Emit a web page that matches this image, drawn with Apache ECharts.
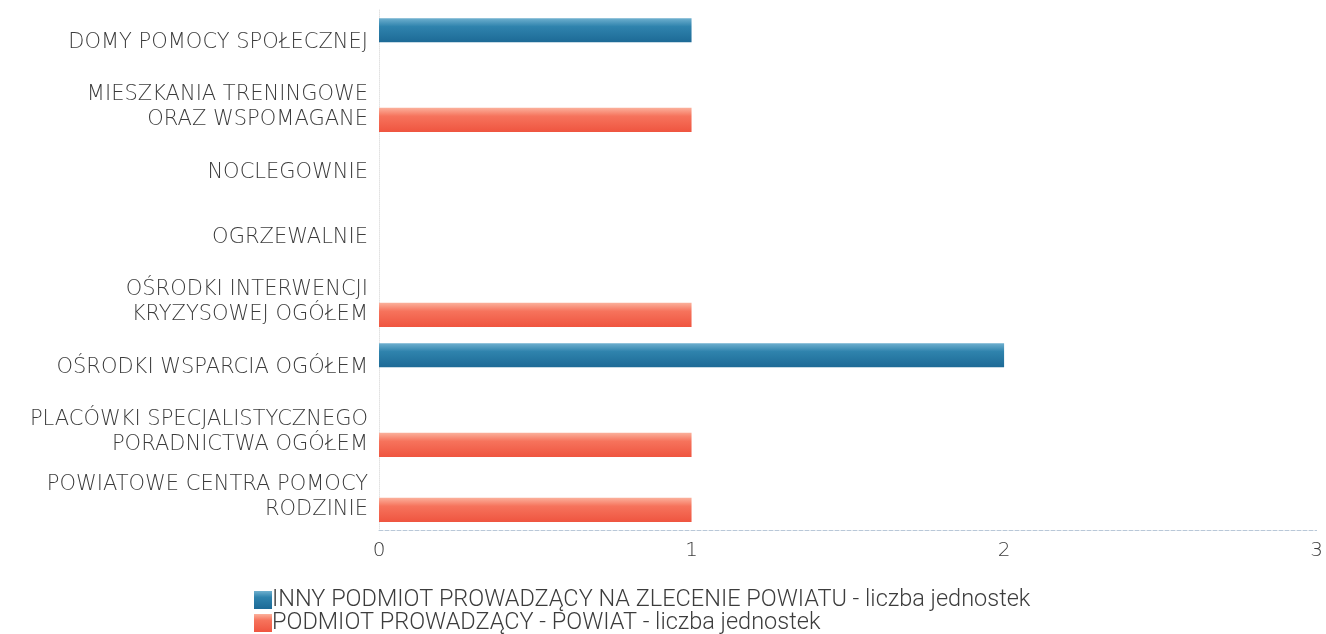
<!DOCTYPE html>
<html>
<head>
<meta charset="utf-8">
<script src="https://cdn.jsdelivr.net/npm/echarts@6/dist/echarts.min.js"></script>
<style>
html, body { margin: 0; padding: 0; background: #fff; }
#main { width: 1326px; height: 634px; }
</style>
</head>
<body>
<div id="main"></div>
<script>
// kategorie (od góry)
var categories = [
    'DOMY POMOCY SPOŁECZNEJ',
    'MIESZKANIA TRENINGOWE\nORAZ WSPOMAGANE',
    'NOCLEGOWNIE',
    'OGRZEWALNIE',
    'OŚRODKI INTERWENCJI\nKRYZYSOWEJ OGÓŁEM',
    'OŚRODKI WSPARCIA OGÓŁEM',
    'PLACÓWKI SPECJALISTYCZNEGO\nPORADNICTWA OGÓŁEM',
    'POWIATOWE CENTRA POMOCY\nRODZINIE'
];
var innyName = 'INNY PODMIOT PROWADZĄCY NA ZLECENIE POWIATU - liczba jednostek';
var powiatName = 'PODMIOT PROWADZĄCY - POWIAT - liczba jednostek';
var innyValues = [1, 0, 0, 0, 0, 2, 0, 0];
var powiatValues = [0, 1, 0, 0, 1, 0, 1, 1];
var xTicks = [0, 1, 2, 3];

var textColor = '#3c3c3c';
var labelFont = 'DejaVu Sans, sans-serif';

// gradient na słupkach (jaśniejszy pasek u góry)
function barGradient(top, mid, bottom) {
    return new echarts.graphic.LinearGradient(0, 0, 0, 1, [
        {offset: 0, color: top},
        {offset: 0.35, color: mid},
        {offset: 1, color: bottom}
    ]);
}

// jedna legenda na serię, żeby ułożyć je pod sobą
function legendRow(name, top) {
    return {
        left: 249,
        top: top,
        icon: 'rect',
        itemWidth: 18,
        itemHeight: 18,
        data: [name],
        textStyle: {
            color: textColor,
            fontFamily: 'Roboto, sans-serif',
            fontWeight: 300,
            fontSize: 23.5,
            lineHeight: 18,
            padding: [0, 0, 0, -5]
        }
    };
}

var myChart = echarts.init(document.getElementById('main'));
var option = {
    backgroundColor: '#fff',
    animation: false,
    grid: {
        left: 379,
        right: 8,
        top: 10,
        bottom: 104,
        containLabel: false
    },
    legend: [
        legendRow(innyName, 583),
        legendRow(powiatName, 606)
    ],
    xAxis: {
        type: 'value',
        min: xTicks[0],
        max: xTicks[xTicks.length - 1],
        interval: 1,
        splitLine: {show: false},
        axisLine: {
            show: true,
            lineStyle: {color: '#b9c8d8', type: 'dashed', width: 1}
        },
        axisTick: {show: false},
        axisLabel: {
            margin: 11,
            color: textColor,
            fontFamily: labelFont,
            fontWeight: 200,
            fontSize: 20
        }
    },
    yAxis: {
        type: 'category',
        inverse: true,
        data: categories,
        axisLine: {
            show: true,
            lineStyle: {color: '#e2e2e2', type: 'dotted', width: 1}
        },
        axisTick: {show: false},
        axisLabel: {
            margin: 11,
            color: textColor,
            fontFamily: labelFont,
            fontWeight: 200,
            fontSize: 21,
            lineHeight: 25,
            align: 'right'
        }
    },
    series: [
        {
            name: innyName,
            type: 'bar',
            data: innyValues,
            barGap: '2%',
            barCategoryGap: '25%',
            itemStyle: {color: barGradient('#6fb0cf', '#2f83ad', '#1d6a96')}
        },
        {
            name: powiatName,
            type: 'bar',
            data: powiatValues,
            barGap: '2%',
            barCategoryGap: '25%',
            itemStyle: {color: barGradient('#fbb19c', '#f6735c', '#ef5540')}
        }
    ]
};
myChart.setOption(option);
</script>
</body>
</html>
